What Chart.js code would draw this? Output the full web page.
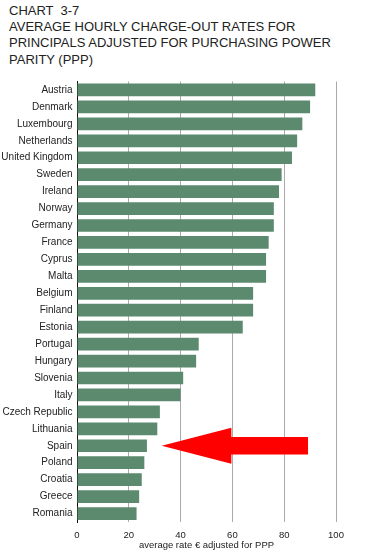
<!DOCTYPE html>
<html>
<head>
<meta charset="utf-8">
<script src="https://cdn.jsdelivr.net/npm/chart.js@4/dist/chart.umd.min.js"></script>
<style>
  html, body { margin: 0; padding: 0; background: #fff; }
  #wrap { position: relative; width: 382px; height: 557px; }
  #title { position: absolute; left: 9px; top: 3px; font-family: "Liberation Sans", Arial, sans-serif; font-size: 13px; line-height: 16.2px; color: #222; white-space: pre; }
  canvas { position: absolute; left: 0; top: 0; }
</style>
</head>
<body>
<div id="wrap">
  <div id="title">CHART  3-7
AVERAGE HOURLY CHARGE-OUT RATES FOR
PRINCIPALS ADJUSTED FOR PURCHASING POWER
PARITY (PPP)</div>
  <canvas id="c" width="382" height="557"></canvas>
</div>
<script>
const countries = ["Austria","Denmark","Luxembourg","Netherlands","United Kingdom","Sweden","Ireland","Norway","Germany","France","Cyprus","Malta","Belgium","Finland","Estonia","Portugal","Hungary","Slovenia","Italy","Czech Republic","Lithuania","Spain","Poland","Croatia","Greece","Romania"];
const rates = [92,90,87,85,83,79,78,76,76,74,73,73,68,68,64,47,46,41,40,32,31,27,26,25,24,23];
const xTicks = [0,20,40,60,80,100];
const axisTitle = "average rate € adjusted for PPP";
const highlighted = "Spain";
const arrowTip = 32.7, arrowHeadBase = 59.6, arrowTail = 89.2;

const arrowPlugin = {
  id: 'arrow',
  afterDatasetsDraw(chart) {
    const x = chart.scales.x, y = chart.scales.y;
    const idx = countries.indexOf(highlighted);
    const cy = y.getPixelForValue(idx);
    const step = Math.abs(y.getPixelForValue(1) - y.getPixelForValue(0));
    const headH = step * 1.06, shaftH = step * 0.51;
    const xt = x.getPixelForValue(arrowTip), xb = x.getPixelForValue(arrowHeadBase), xe = x.getPixelForValue(arrowTail);
    const ctx = chart.ctx;
    ctx.save();
    ctx.fillStyle = '#ff0000';
    ctx.beginPath();
    ctx.moveTo(xt, cy);
    ctx.lineTo(xb, cy - headH);
    ctx.lineTo(xb, cy - shaftH);
    ctx.lineTo(xe, cy - shaftH);
    ctx.lineTo(xe, cy + shaftH);
    ctx.lineTo(xb, cy + shaftH);
    ctx.lineTo(xb, cy + headH);
    ctx.closePath();
    ctx.fill();
    ctx.restore();
  }
};

new Chart(document.getElementById('c'), {
  type: 'bar',
  data: {
    labels: countries,
    datasets: [{
      data: rates,
      backgroundColor: '#5b8a6f',
      borderWidth: 0,
      barPercentage: 0.75,
      categoryPercentage: 1.0
    }]
  },
  options: {
    indexAxis: 'y',
    responsive: false,
    animation: false,
    devicePixelRatio: 1,
    layout: { padding: { top: 81.5, right: 46, left: 0, bottom: 0 } },
    plugins: { legend: { display: false }, tooltip: { enabled: false }, title: { display: false } },
    scales: {
      x: {
        min: 0, max: 100,
        afterBuildTicks(s) { s.ticks = xTicks.map(v => ({ value: v })); },
        afterFit(s) { s.height = 35; },
        grid: { color: '#aaaaaa', lineWidth: 1, drawTicks: false },
        border: { display: false },
        ticks: { color: '#222', padding: 8, font: { family: 'Liberation Sans', size: 9.5 } },
        title: { display: true, text: axisTitle, color: '#222', font: { family: 'Liberation Sans', size: 9.5 }, padding: { top: 0, bottom: 6 } }
      },
      y: {
        afterFit(s) { s.width = 77; },
        grid: { display: false, drawTicks: false },
        border: { display: true, color: '#111', width: 1 },
        ticks: { color: '#222', padding: 4.5, autoSkip: false, font: { family: 'Liberation Sans', size: 10 } }
      }
    }
  },
  plugins: [arrowPlugin]
});
</script>
</body>
</html>
